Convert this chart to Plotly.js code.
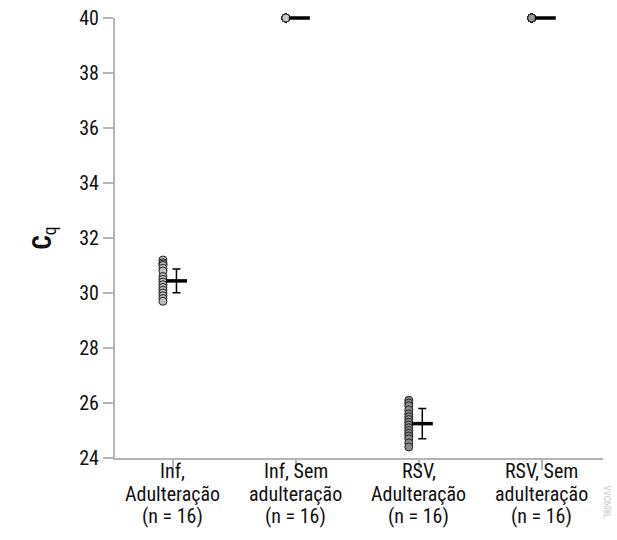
<!DOCTYPE html>
<html>
<head>
<meta charset="utf-8">
<script src="https://cdn.plot.ly/plotly-3.0.1.min.js"></script>
<style>html,body{margin:0;padding:0;background:#fff;}#chart{width:617px;height:540px;}</style>
</head>
<body>
<div id="chart"></div>
<script>
const labelLine1 = ['Inf,', 'Inf, Sem', 'RSV,', 'RSV, Sem'];
const labelLine2 = ['Adulteração', 'adulteração', 'Adulteração', 'adulteração'];
const labelLine3 = ['(n = 16)', '(n = 16)', '(n = 16)', '(n = 16)'];
const infAdulteracao = [31.2, 31.1, 31.05, 31.0, 30.9, 30.8, 30.6, 30.5, 30.4, 30.3, 30.2, 30.1, 30.0, 29.9, 29.8, 29.7];
const infSemAdulteracao = [40, 40, 40, 40, 40, 40, 40, 40, 40, 40, 40, 40, 40, 40, 40, 40];
const rsvAdulteracao = [26.1, 26.0, 25.9, 25.75, 25.6, 25.5, 25.4, 25.3, 25.2, 25.1, 25.0, 24.9, 24.8, 24.7, 24.55, 24.4];
const rsvSemAdulteracao = [40, 40, 40, 40, 40, 40, 40, 40, 40, 40, 40, 40, 40, 40, 40, 40];
const means = [30.44, 40, 25.25, 40];
const sds = [0.43, 0, 0.55, 0];
const pointColors = ['#bdbdbd', '#c8c8c8', '#8c8c8c', '#9a9a9a'];

const groups = [infAdulteracao, infSemAdulteracao, rsvAdulteracao, rsvSemAdulteracao];
const px = [], py = [], pc = [];
groups.forEach((g, i) => {
  g.forEach(v => { px.push(i - 0.08); py.push(v); pc.push(pointColors[i]); });
});

const traces = [
  {
    type: 'scatter', mode: 'markers', x: px, y: py, cliponaxis: false,
    marker: {size: 8, color: pc, line: {color: '#222', width: 1}},
    hoverinfo: 'y', showlegend: false
  },
  {
    type: 'scatter', mode: 'markers', x: [0.03, 1.03, 2.03, 3.03], y: means, cliponaxis: false,
    marker: {symbol: 'line-ew', size: 15, line: {color: '#000', width: 3.5}},
    error_y: {type: 'data', array: sds, visible: true, color: '#000', thickness: 1.5, width: 4},
    showlegend: false
  }
];

const axisColor = '#b5b5b5';
const fontFamily = '"Roboto Condensed", "DejaVu Sans Condensed", "Liberation Sans Narrow", Roboto, sans-serif';

const annotations = [];
[labelLine1, labelLine2, labelLine3].forEach((line, li) => {
  line.forEach((txt, i) => {
    annotations.push({
      text: txt, xref: 'x', yref: 'paper', x: i, y: 0,
      xanchor: 'center', yanchor: 'middle', yshift: -13 - li * 22.5,
      showarrow: false, font: {family: fontFamily, size: 20, color: '#111'}
    });
  });
});
annotations.push({text: 'VVC608L', xref: 'paper', yref: 'paper', x: 1.009, y: -0.1,
  xanchor: 'center', yanchor: 'middle', textangle: 90, showarrow: false,
  font: {family: fontFamily, size: 9, color: '#c4c4c4'}});

const layout = {
  width: 617, height: 540,
  margin: {l: 115, r: 14, t: 18, b: 82},
  paper_bgcolor: '#fff', plot_bgcolor: '#fff',
  font: {family: fontFamily, size: 20, color: '#111'},
  showlegend: false,
  xaxis: {
    range: [-0.47, 3.5], tickvals: [0, 1, 2, 3], showticklabels: false,
    showline: true, linecolor: axisColor, linewidth: 2,
    ticks: 'outside', ticklen: 10, tickwidth: 2, tickcolor: axisColor,
    showgrid: false, zeroline: false, fixedrange: true
  },
  yaxis: {
    range: [24, 40], tick0: 24, dtick: 2,
    showline: true, linecolor: axisColor, linewidth: 2,
    ticks: 'outside', ticklen: 10, tickwidth: 2, tickcolor: axisColor,
    showgrid: false, zeroline: false, fixedrange: true,
    tickfont: {family: fontFamily, size: 20, color: '#111'},
    title: {text: '<b>C</b><sub>q</sub>', font: {family: fontFamily, size: 25, color: '#111'}, standoff: 21}
  },
  annotations: annotations
};

Plotly.newPlot('chart', traces, layout, {displayModeBar: false, staticPlot: true});
</script>
</body>
</html>
